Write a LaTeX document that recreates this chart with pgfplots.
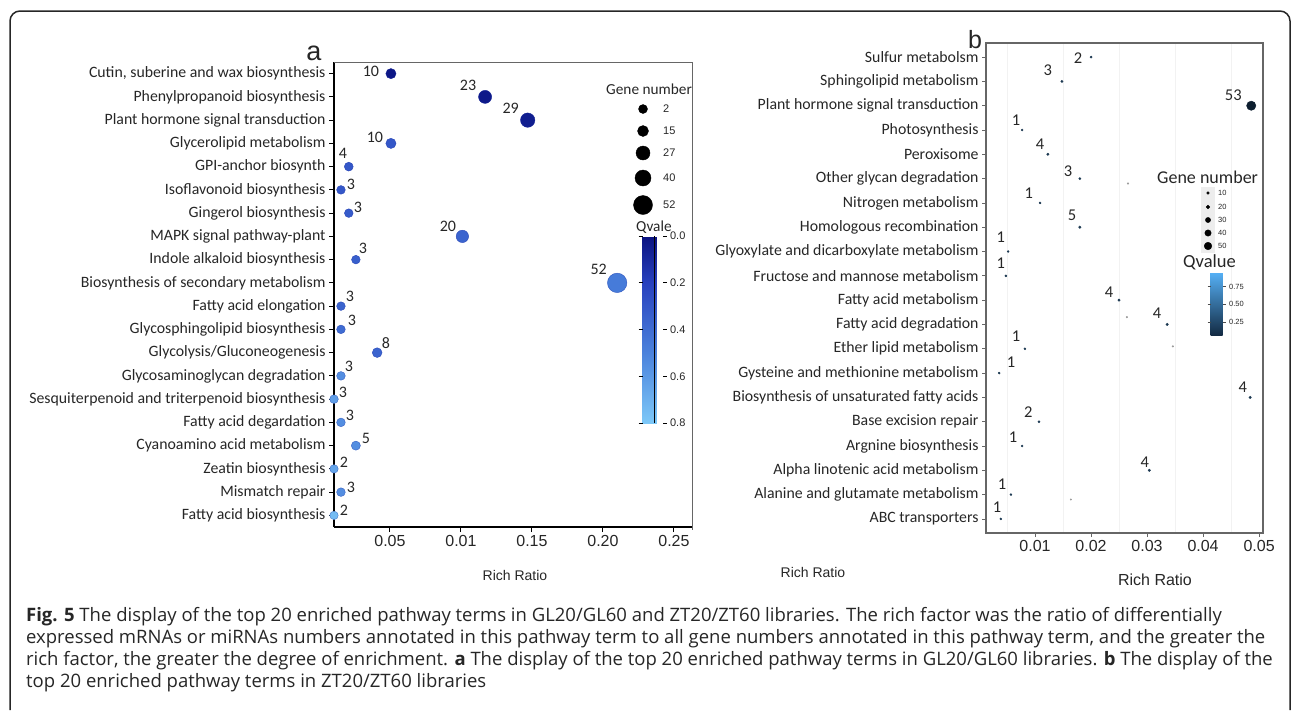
\documentclass[border=0pt]{standalone}
\usepackage{fontspec}
\setmainfont{Carlito}
\newfontfamily\arial{Liberation Sans}
\newfontfamily\capfont{Open Sans}
\usepackage{pgfplots}
\pgfplotsset{compat=1.18}
\usepackage{pgfplotstable}
\newcommand\fs[1]{\fontsize{#1}{#1}\selectfont}
\definecolor{ptedge}{RGB}{20,40,160}
\definecolor{bdark}{RGB}{20,37,62}

% panel a: x = rich ratio, y = row (1 = top), n = gene number, q = Qvalue, lx/ly = label position
\pgfplotstableread{
x y n q lx ly
0.0507 1 10 0.02 0.0366 0.91
0.117 2 23 0.03 0.105 1.52
0.147 3 29 0.05 0.135 2.47
0.0507 4 10 0.30 0.0394 3.76
0.021 5 4 0.30 0.0169 4.41
0.0155 6 3 0.30 0.0225 5.75
0.021 7 3 0.32 0.0275 6.74
0.101 8 20 0.36 0.0908 7.56
0.026 9 3 0.34 0.031 8.51
0.21 10 52 0.50 0.197 9.42
0.0155 11 3 0.36 0.0218 10.59
0.0155 12 3 0.40 0.0232 11.62
0.041 13 8 0.36 0.0472 12.61
0.0155 14 3 0.55 0.0211 13.61
0.0106 15 3 0.62 0.0169 14.69
0.0155 16 3 0.55 0.0218 15.68
0.026 17 5 0.55 0.0331 16.67
0.0106 18 2 0.65 0.0176 17.71
0.0155 19 3 0.55 0.0225 18.79
0.0106 20 2 0.75 0.0176 19.78
}\dataA

% panel b
\pgfplotstableread{
x y n q lx ly
0.0200 1 2 0.3 0.0177 1.04
0.0148 2 3 0.3 0.0123 1.53
0.0486 3 53 0.05 0.0454 2.56
0.0077 4 1 0.3 0.0066 3.59
0.0123 5 4 0.3 0.0109 4.58
0.0180 6 3 0.3 0.0159 5.69
0.0109 7 1 0.3 0.0089 6.60
0.0180 8 5 0.3 0.0166 7.50
0.0052 9 1 0.3 0.0039 8.41
0.0048 10 1 0.3 0.0039 9.48
0.0250 11 4 0.3 0.0232 10.67
0.0336 12 4 0.3 0.0318 11.53
0.0082 13 1 0.3 0.0066 12.48
0.0036 14 1 0.3 0.0057 13.55
0.0484 15 4 0.3 0.0471 14.58
0.0107 16 2 0.3 0.0088 15.61
0.0077 17 1 0.3 0.0061 16.64
0.0304 18 4 0.3 0.0296 17.67
0.0057 19 1 0.3 0.0041 18.57
0.0039 20 1 0.3 0.0032 19.52
}\dataB

\begin{document}
\begin{tikzpicture}
\path[use as bounding box] (0pt,0pt) rectangle (1295pt,-710pt);
\begin{scope}[x=1pt,y=-1pt]
\draw[line width=1.5pt, black!85, rounded corners=10pt] (10,710) -- (10,11) -- (1290,11) -- (1290,710);
\end{scope}

% ---------------- panel a ----------------
\begin{axis}[
  at={(334pt,-527pt)}, anchor=south west,
  scale only axis, width=358pt, height=465pt,
  xmin=0.0106, xmax=0.2627, ymin=0.5, ymax=20.5,
  axis lines*=left, axis line style={black, line width=1.3pt},
  tick align=outside, major tick length=5pt, tick style={black, line width=1pt},
  scaled x ticks=false,
  xtick={0.05,0.1,0.15,0.2,0.25}, xticklabels={0.05,0.01,0.15,0.20,0.25},
  xticklabel style={font=\arial\fs{16}, text=black!85},
  ytick={1,...,20},
  yticklabels={Fatty acid biosynthesis, Mismatch repair, Zeatin biosynthesis, Cyanoamino acid metabolism, Fatty acid degardation, Sesquiterpenoid and triterpenoid biosynthesis, Glycosaminoglycan degradation, Glycolysis/Gluconeogenesis, Glycosphingolipid biosynthesis, Fatty acid elongation, Biosynthesis of secondary metabolism, Indole alkaloid biosynthesis, MAPK signal pathway-plant, Gingerol biosynthesis, Isoflavonoid biosynthesis, GPI-anchor biosynth, Glycerolipid metabolism, Plant hormone signal transduction, Phenylpropanoid biosynthesis, {Cutin, suberine and wax biosynthesis}},
  yticklabel style={font=\fs{15.8}, text=black!85},
  % colour value = 0.8 - Qvalue (so the colour bar reads 0.0 at the top)
  colormap={qa}{rgb255(0cm)=(125,200,248); rgb255(3cm)=(75,130,220); rgb255(6cm)=(40,65,190); rgb255(8cm)=(10,18,128)},
  point meta min=0, point meta max=0.8,
  colorbar,
  colorbar style={
    scale only axis, width=20pt, height=187pt,
    at={(parent axis.north west)}, anchor=north west, xshift=300pt, yshift=-174pt,
    axis line style={draw=none},
    tick align=outside, major tick length=4pt, ytick style={black, line width=0.8pt},
    ytick={0,0.2,0.4,0.6,0.8}, yticklabels={0.8,0.6,0.4,0.2,0.0},
    yticklabel style={font=\arial\fs{11}, text=black!85},
  },
  clip=false,
]
\addplot[scatter, only marks, mark=*, point meta=explicit,
  scatter/use mapped color={draw=mapped color!55!ptedge, fill=mapped color},
  visualization depends on={4+0.11*\thisrow{n} \as \rr},
  scatter/@pre marker code/.append style={/tikz/mark size=\rr, /tikz/line width=0.9pt}]
  table[x=x, y expr=21-\thisrow{y}, meta expr=0.8-\thisrow{q}] {\dataA};
\addplot[only marks, mark=none, point meta=explicit symbolic, nodes near coords,
  nodes near coords style={anchor=center, inner sep=0pt, font=\fs{16}, text=black!85}]
  table[x=lx, y expr=21-\thisrow{ly}, meta=n] {\dataA};
\end{axis}
\begin{scope}[x=1pt,y=-1pt]
\draw[black!60, line width=1pt] (334,62) -- (692,62) -- (692,530);
\draw[black, line width=1pt] (654,236) -- (654,423);
\end{scope}

% ---------------- panel b ----------------
\begin{axis}[
  at={(986pt,-533pt)}, anchor=south west,
  scale only axis, width=277pt, height=490pt,
  xmin=0.00125, xmax=0.0507, ymin=0.42, ymax=20.58,
  axis line style={black!60, line width=1.1pt},
  tick pos=left, tick align=outside, major tick length=4pt, tick style={black!60, line width=0.8pt},
  scaled x ticks=false,
  xtick={0.01,0.02,0.03,0.04,0.05}, xticklabels={0.01,0.02,0.03,0.04,0.05},
  xticklabel style={font=\arial\fs{16}, text=black!85},
  minor xtick={0.005,0.015,0.025,0.035,0.045}, xminorgrids, minor tick length=0pt,
  minor grid style={black!5, line width=1pt},
  ytick={1,...,20},
  yticklabels={ABC transporters, Alanine and glutamate metabolism, Alpha linotenic acid metabolism, Argnine biosynthesis, Base excision repair, Biosynthesis of unsaturated fatty acids, Gysteine and methionine metabolism, Ether lipid metabolism, Fatty acid degradation, Fatty acid metabolism, Fructose and mannose metabolism, Glyoxylate and dicarboxylate metabolism, Homologous recombination, Nitrogen metabolism, Other glycan degradation, Peroxisome, Photosynthesis, Plant hormone signal transduction, Sphingolipid metabolism, Sulfur metabolsm},
  yticklabel style={font=\fs{15.8}, text=black!85},
  colormap={gg}{rgb255(0cm)=(19,43,67); rgb255(1cm)=(86,177,247)},
  point meta min=0.064, point meta max=0.96,
  colorbar,
  colorbar style={
    scale only axis, width=12pt, height=63pt,
    at={(parent axis.north west)}, anchor=north west, xshift=216pt, yshift=-229pt,
    axis line style={draw=none},
    tick align=outside, major tick length=3pt, ytick style={black!70, line width=0.6pt},
    ytick={0.25,0.5,0.75}, yticklabels={0.25,0.50,0.75},
    yticklabel style={font=\arial\fs{7.5}, text=black!85},
  },
  clip=false,
]
\addplot[scatter, only marks, mark=*, point meta=explicit,
  scatter/use mapped color={draw=mapped color!70!black, fill=mapped color!70!black},
  visualization depends on={0.95+0.07*\thisrow{n} \as \rr},
  scatter/@pre marker code/.append style={/tikz/mark size=\rr}]
  table[x=x, y expr=21-\thisrow{y}, meta=q] {\dataB};
\addplot[only marks, mark=*, mark size=0.8pt, black!40] coordinates {(0.0266,14.8) (0.0264,9.3) (0.0346,8.1) (0.0164,1.8)};
\addplot[only marks, mark=none, point meta=explicit symbolic, nodes near coords,
  nodes near coords style={anchor=center, inner sep=0pt, font=\fs{16.5}, text=black!85}]
  table[x=lx, y expr=21-\thisrow{ly}, meta=n] {\dataB};
\end{axis}

% ---------------- legends (pixel-coordinate overlay axis) ----------------
\begin{scope}[x=1pt,y=-1pt]
\fill[black!7] (1201,187) rectangle (1215,253);
\end{scope}
\begin{axis}[at={(0pt,-710pt)}, anchor=south west, scale only axis, width=1295pt, height=710pt,
  xmin=0, xmax=1295, ymin=0, ymax=710, y dir=reverse, hide axis, clip=false]
\addplot[only marks, mark=*, mark size=4.5pt, black] coordinates {(643,109)};
\addplot[only marks, mark=*, mark size=5.5pt, black] coordinates {(643,131)};
\addplot[only marks, mark=*, mark size=7pt, black] coordinates {(643,153)};
\addplot[only marks, mark=*, mark size=8pt, black] coordinates {(643,178)};
\addplot[only marks, mark=*, mark size=9.5pt, black] coordinates {(643,205)};
\addplot[only marks, mark=*, mark size=1.3pt, black] coordinates {(1208,193)};
\addplot[only marks, mark=*, mark size=1.8pt, black] coordinates {(1208,207)};
\addplot[only marks, mark=*, mark size=2.6pt, black] coordinates {(1208,220)};
\addplot[only marks, mark=*, mark size=3.2pt, black] coordinates {(1208,233)};
\addplot[only marks, mark=*, mark size=3.8pt, black] coordinates {(1208,246)};
\end{axis}

% texts
\begin{scope}[x=1pt,y=-1pt]
\node[anchor=base, font=\arial\fs{27}, text=black!85] at (314,60) {a};
\node[anchor=base, font=\arial\fs{25}, text=black!85] at (975,48) {b};
\node[anchor=west, font=\fs{15.3}, text=black!85, inner sep=0pt] at (606,89) {Gene number};
\foreach \v/\yy in {2/109,15/131,27/153,40/178,52/205}
  \node[anchor=west, font=\arial\fs{11}, text=black!85, inner sep=0pt] at (663,\yy) {\v};
\node[anchor=west, font=\fs{15.3}, text=black!85, inner sep=0pt] at (636,227) {Qvale};
\node[anchor=west, font=\fs{18}, text=black!85, inner sep=0pt] at (1157,177) {Gene number};
\foreach \v/\yy in {10/193,20/207,30/220,40/233,50/246}
  \node[anchor=west, font=\arial\fs{7.5}, text=black!85, inner sep=0pt] at (1218,\yy) {\v};
\node[anchor=west, font=\fs{18.5}, text=black!85, inner sep=0pt] at (1183,262) {Qvalue};
\node[font=\arial\fs{14}, text=black!85] at (515,575) {Rich Ratio};
\node[font=\arial\fs{14}, text=black!85] at (813,572) {Rich Ratio};
\node[font=\arial\fs{16}, text=black!85] at (1155,580) {Rich Ratio};
\begin{scope}[every node/.style={anchor=base west, inner sep=0pt, font=\capfont\fs{18.5}, text=black!85}]
\node at (26,621) {\textbf{Fig. 5} The display of the top 20 enriched pathway terms in GL20/GL60 and ZT20/ZT60 libraries. The rich factor was the ratio of differentially};
\node at (26,643) {expressed mRNAs or miRNAs numbers annotated in this pathway term to all gene numbers annotated in this pathway term, and the greater the};
\node at (26,665) {rich factor, the greater the degree of enrichment. \textbf{a} The display of the top 20 enriched pathway terms in GL20/GL60 libraries. \textbf{b} The display of the};
\node at (26,687) {top 20 enriched pathway terms in ZT20/ZT60 libraries};
\end{scope}
\end{scope}
\end{tikzpicture}
\end{document}
